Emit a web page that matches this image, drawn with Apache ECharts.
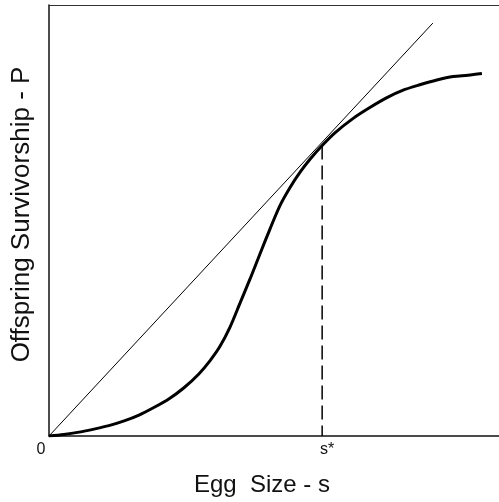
<!DOCTYPE html>
<html>
<head>
<meta charset="utf-8">
<script src="https://cdn.jsdelivr.net/npm/echarts@6/dist/echarts.min.js"></script>
<style>
  html, body { margin: 0; padding: 0; background: #fff; }
  #chart { width: 499px; height: 502px; }
</style>
</head>
<body>
<div id="chart"></div>
<script>
// 曲线 P(s) 的读数
const curveX = [0, 3.3, 6.7, 10.0, 13.3, 16.7, 20.0, 23.3, 26.7, 30.0, 33.3, 35.8, 38.0, 40.2, 42.4, 44.7, 46.9, 49.1, 51.3, 53.6, 55.8, 58.0, 60.7, 63.6, 67.6, 71.3, 75.1, 79.1, 82.4, 86.2, 89.8, 93.1, 96.2];
const curveY = [0, 0.35, 0.9, 1.6, 2.4, 3.5, 4.85, 6.6, 8.65, 11.2, 14.4, 17.5, 20.8, 25.2, 30.7, 36.5, 42.3, 48.0, 53.4, 57.7, 61.2, 64.2, 67.4, 70.4, 73.7, 76.2, 78.5, 80.4, 81.5, 82.6, 83.4, 83.7, 84.1];
// 过原点的切线
const lineX = [0, 85.3];
const lineY = [0, 95.8];
// s* 位置
const sStar = 60.7;
const sStarY = 67.4;
const tickValues = [0, sStar];
const tickLabels = ["{z|0}", "{s|s*}"];

const chart = echarts.init(document.getElementById("chart"));

const options = {
  animation: false,
  grid: {
    left: 49,
    right: 0,
    top: 5,
    bottom: 64,
  },
  xAxis: [
    {
      type: "value",
      min: 0,
      max: 100,
      name: "Egg  Size - s",
      nameLocation: "middle",
      nameGap: 37,
      nameTextStyle: {
        color: "#111",
        fontSize: 24,
        fontFamily: "Liberation Sans",
        padding: [0, 24, 0, 0],
      },
      axisLine: { show: true, lineStyle: { color: "#111", width: 1.5 } },
      axisTick: { show: false },
      splitLine: { show: false },
      axisLabel: {
        customValues: tickValues,
        color: "#111",
        fontSize: 16,
        fontFamily: "Liberation Sans",
        margin: 6,
        formatter: (val) => {
          const i = tickValues.indexOf(val);
          return i >= 0 ? tickLabels[i] : "";
        },
        rich: {
          z: { fontSize: 16, fontFamily: "Liberation Sans", color: "#111", padding: [0, 16, 0, 0] },
          s: { fontSize: 16, fontFamily: "Liberation Sans", color: "#111", padding: [0, 0, 0, 10] },
        },
      },
    },
    {
      // 上边框
      type: "value",
      position: "top",
      min: 0,
      max: 100,
      axisLine: { show: true, lineStyle: { color: "#333", width: 1 } },
      axisTick: { show: false },
      axisLabel: { show: false },
      splitLine: { show: false },
    },
  ],
  yAxis: {
    type: "value",
    min: 0,
    max: 100,
    name: "Offspring Survivorship - P",
    nameLocation: "middle",
    nameRotate: 90,
    nameGap: 14,
    nameTextStyle: {
      color: "#111",
      fontSize: 26,
      fontFamily: "Liberation Sans",
      padding: [0, 0, 0, 12],
    },
    axisLine: { show: true, lineStyle: { color: "#111", width: 1.5 } },
    axisTick: { show: false },
    axisLabel: { show: false },
    splitLine: { show: false },
  },
  series: [
    {
      type: "line",
      smooth: 0.3,
      symbol: "none",
      lineStyle: { color: "#000", width: 3 },
      data: curveX.map((x, i) => [x, curveY[i]]),
    },
    {
      type: "line",
      symbol: "none",
      lineStyle: { color: "#000", width: 1 },
      data: lineX.map((x, i) => [x, lineY[i]]),
    },
    {
      type: "line",
      symbol: "none",
      lineStyle: { color: "#000", width: 1.5, type: [14, 6] },
      data: [[sStar, sStarY], [sStar, 0]],
    },
  ],
};

chart.setOption(options);
</script>
</body>
</html>
